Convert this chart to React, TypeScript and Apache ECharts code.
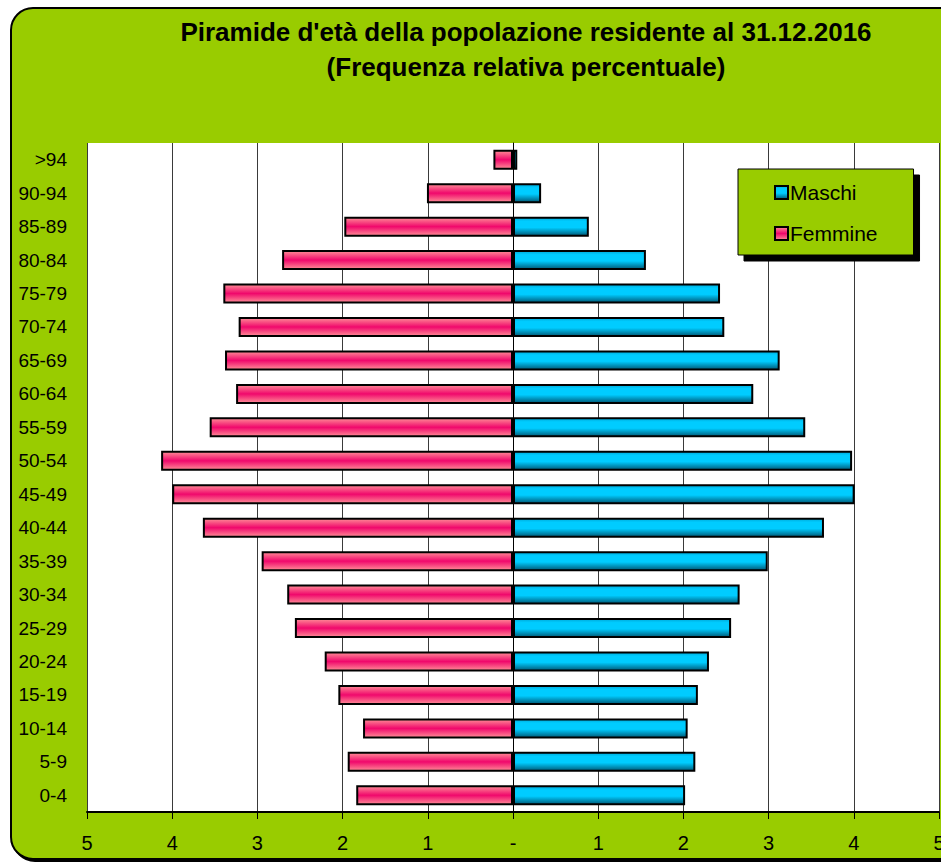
import React, { useEffect, useRef } from "react";
import * as echarts from "echarts";

const categories = ["0-4","5-9","10-14","15-19","20-24","25-29","30-34","35-39","40-44","45-49","50-54","55-59","60-64","65-69","70-74","75-79","80-84","85-89","90-94",">94"];
const maschi = [2.02,2.14,2.05,2.17,2.30,2.56,2.66,2.99,3.65,4.01,3.98,3.43,2.82,3.13,2.48,2.43,1.56,0.89,0.33,0.05];
const femmine = [1.84,1.94,1.76,2.05,2.21,2.56,2.65,2.95,3.64,4.00,4.13,3.56,3.25,3.38,3.22,3.40,2.71,1.98,1.01,0.23];
const titleLines = ["Piramide d'età della popolazione residente al 31.12.2016", "(Frequenza relativa percentuale)"];

const FONT = "'Liberation Sans', Arial, sans-serif";

export default function App() {
  const ref = useRef<HTMLDivElement>(null);
  useEffect(() => {
    if (!ref.current) return;
    const chart = echarts.init(ref.current, null, { renderer: "svg" });
    const blueGrad = new echarts.graphic.LinearGradient(0, 0, 0, 1, [
      { offset: 0, color: "#00a8d8" },
      { offset: 0.2, color: "#00ccff" },
      { offset: 0.55, color: "#00ccff" },
      { offset: 1, color: "#005a78" },
    ]);
    const pinkGrad = new echarts.graphic.LinearGradient(0, 0, 0, 1, [
      { offset: 0, color: "#ff8c96" },
      { offset: 0.5, color: "#f0086c" },
      { offset: 1, color: "#ff8c96" },
    ]);
    chart.setOption({
      animation: false,
      textStyle: { fontFamily: FONT },
      graphic: [
        {
          type: "rect",
          z: -10,
          shape: { x: 11, y: 8, width: 980, height: 851, r: 22 },
          style: { fill: "#99cc00", stroke: "#000", lineWidth: 2, shadowColor: "#000", shadowOffsetX: 2, shadowOffsetY: 2, shadowBlur: 0 },
          silent: true,
        },
        {
          type: "text",
          x: 526,
          y: 32,
          style: { text: titleLines[0], font: `bold 26px ${FONT}`, fill: "#000", align: "center", verticalAlign: "middle" },
        },
        {
          type: "text",
          x: 526,
          y: 67,
          style: { text: titleLines[1], font: `bold 26px ${FONT}`, fill: "#000", align: "center", verticalAlign: "middle" },
        },
      ],
      grid: { left: 87, right: 2, top: 143, bottom: 51, backgroundColor: "#ffffff", show: true, borderWidth: 0, outerBoundsMode: "none", containLabel: false },
      legend: {
        orient: "vertical",
        left: 738,
        top: 169,
        data: ["Maschi", "Femmine"],
        backgroundColor: "#99cc00",
        borderColor: "#000",
        borderWidth: 1,
        shadowColor: "#000",
        shadowOffsetX: 6,
        shadowOffsetY: 6,
        shadowBlur: 0,
        padding: [13, 36, 11, 36],
        itemGap: 20,
        itemWidth: 13,
        itemHeight: 13,
        icon: "rect",
        textStyle: { fontSize: 21, color: "#000", fontFamily: FONT, padding: [0, 0, 0, -3] },
      },
      xAxis: {
        type: "value",
        min: -5,
        max: 5,
        interval: 1,
        axisLine: { show: true, onZero: false, lineStyle: { color: "#000", width: 2 } },
        axisTick: { show: true, inside: false, length: 7, lineStyle: { color: "#000" } },
        axisLabel: {
          fontSize: 20,
          color: "#000",
          margin: 21,
          fontFamily: FONT,
          formatter: (v: number) => (v === 0 ? "-" : String(Math.abs(v))),
        },
        splitLine: { show: true, lineStyle: { color: "#3a3a3a", width: 1 } },
      },
      yAxis: {
        type: "category",
        data: categories,
        axisLine: { show: true, lineStyle: { color: "#000", width: 1 } },
        axisTick: { show: false },
        axisLabel: { fontSize: 19, color: "#000", margin: 20, fontFamily: FONT },
      },
      series: [
        {
          name: "Maschi",
          type: "bar",
          stack: "tot",
          barWidth: 20,
          data: maschi,
          itemStyle: { color: blueGrad, borderColor: "#000", borderWidth: 2 },
        },
        {
          name: "Femmine",
          type: "bar",
          stack: "tot",
          barWidth: 20,
          data: femmine.map((v) => -v),
          itemStyle: { color: pinkGrad, borderColor: "#000", borderWidth: 2 },
        },
      ],
    });
    return () => chart.dispose();
  }, []);
  return (
    <div
      ref={ref}
      style={{ position: "absolute", left: 0, top: 0, width: 941, height: 863 }}
    />
  );
}
